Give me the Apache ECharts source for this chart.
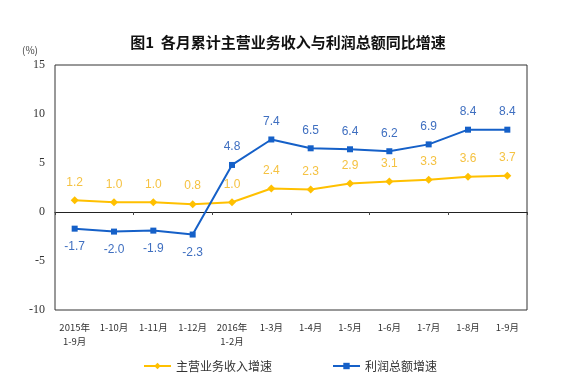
<!DOCTYPE html>
<html><head><meta charset="utf-8">
<script src="https://cdn.jsdelivr.net/npm/echarts@6/dist/echarts.min.js"></script>
<style>html,body{margin:0;padding:0;background:#fff;}#c{width:580px;height:378px;}</style>
</head><body><div id="c"></div>
<script>
const categories = ['2015年\n1-9月','1-10月','1-11月','1-12月','2016年\n1-2月','1-3月','1-4月','1-5月','1-6月','1-7月','1-8月','1-9月'];
const revenueGrowth = [1.2,1.0,1.0,0.8,1.0,2.4,2.3,2.9,3.1,3.3,3.6,3.7];
const profitGrowth = [-1.7,-2.0,-1.9,-2.3,4.8,7.4,6.5,6.4,6.2,6.9,8.4,8.4];
const yTicks = [-10,-5,0,5,10,15];
const seriesNames = ['主营业务收入增速','利润总额增速'];

const cjk = '"Noto Sans CJK SC", "Noto Sans", sans-serif';
const chart = echarts.init(document.getElementById('c'), null, {renderer:'canvas'});
chart.setOption({
  animation:false,
  backgroundColor:'#fff',
  title:{text:'图1  各月累计主营业务收入与利润总额同比增速', left:283, textAlign:'center', top:30,
    textStyle:{fontFamily:cjk, fontSize:15, fontWeight:'bold', color:'#111'}},
  graphic:[{type:'text', left:22, top:45, style:{text:'(%)', fontFamily:cjk, fontSize:10, fill:'#444'}}],
  legend:{top:355, left:'center', itemGap:60, itemWidth:27, itemHeight:8,
    textStyle:{fontFamily:cjk, fontSize:12, color:'#333'},
    data:seriesNames},
  grid:{left:55, right:53, top:65, bottom:68, show:true, borderColor:'#333', borderWidth:1},
  xAxis:[{type:'category', data:categories, position:'bottom',
      axisLine:{show:false, onZero:false}, axisTick:{show:false},
      axisLabel:{interval:0, fontFamily:cjk, fontSize:9.5, color:'#333', margin:10, lineHeight:14}},
    {type:'category', data:categories, position:'top',
      axisLine:{show:true, onZero:true, lineStyle:{color:'#222', width:1}},
      axisTick:{show:true, inside:true, length:3, lineStyle:{color:'#444'}},
      axisLabel:{show:false}}],
  yAxis:{type:'value', min:yTicks[0], max:yTicks[yTicks.length-1], interval:5,
    axisLine:{show:false}, axisTick:{show:false}, splitLine:{show:false},
    axisLabel:{fontFamily:'"Liberation Serif", serif', fontSize:12, color:'#333', margin:10}},
  series:[
    {name:seriesNames[0], type:'line', data:revenueGrowth, symbol:'diamond', symbolSize:8,
      itemStyle:{color:'#FFC000'}, lineStyle:{color:'#FFC000', width:2},
      label:{show:true, position:'top', distance:8, color:'#F5C242', fontSize:12,
        fontFamily:'"Liberation Sans", Arial, sans-serif', formatter:p=>p.value.toFixed(1)}},
    {name:seriesNames[1], type:'line',
      data:profitGrowth.map(v=>({value:v, label:{position: v<0?'bottom':'top'}})),
      symbol:'rect', symbolSize:6,
      itemStyle:{color:'#1560C8'}, lineStyle:{color:'#1560C8', width:2},
      label:{show:true, distance:9, color:'#3F6FC0', fontSize:12,
        fontFamily:'"Liberation Sans", Arial, sans-serif',
        formatter:p=>p.value.toFixed(1)}}
  ]
});
</script></body></html>
